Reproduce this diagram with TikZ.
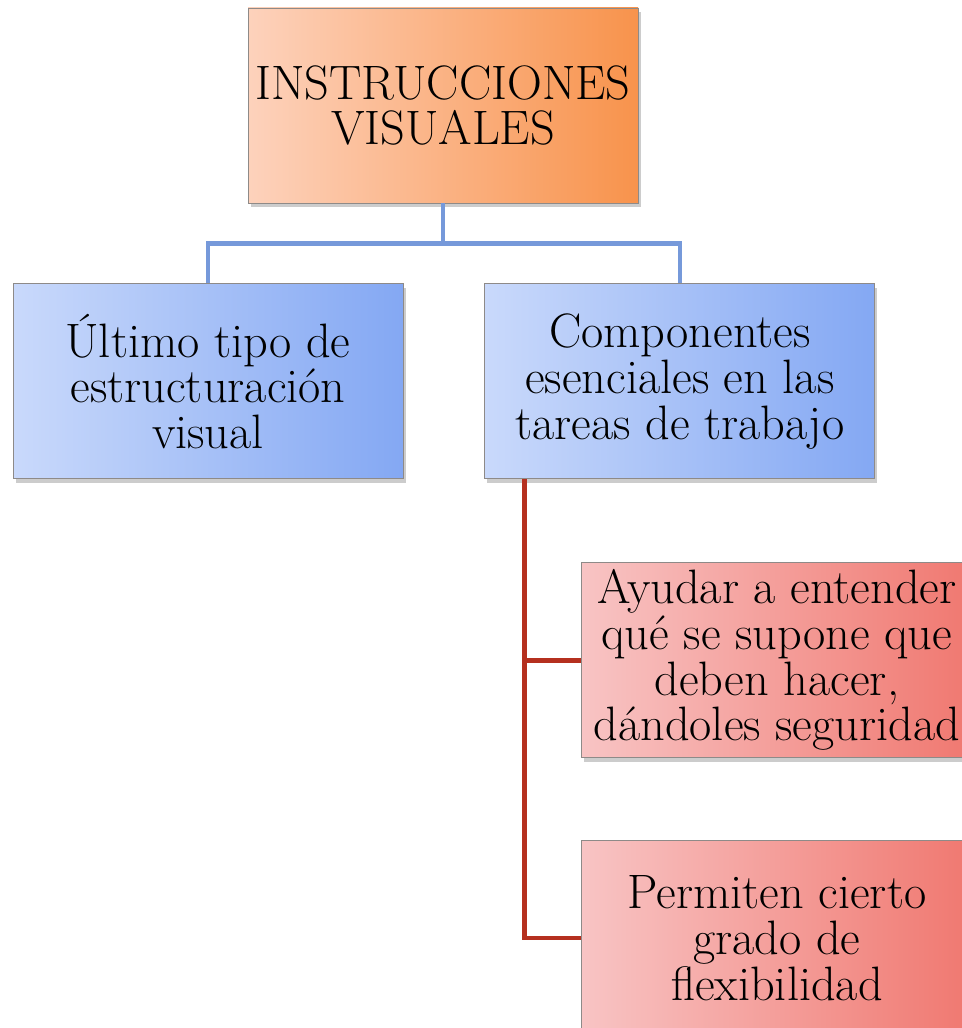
\documentclass[tikz,border=0pt]{standalone}
\usepackage{xcolor}
\usepackage{tikz}
\usetikzlibrary{positioning,shadows,calc}
\definecolor{OrangeLight}{HTML}{FDD2BC}
\definecolor{OrangeMid}{HTML}{FBB58E}
\definecolor{OrangeDark}{HTML}{F8934C}
\definecolor{BlueLight}{HTML}{C9D9FB}
\definecolor{BlueMid}{HTML}{B0C8F8}
\definecolor{BlueDark}{HTML}{84A8F3}
\definecolor{RedLight}{HTML}{F8C4C4}
\definecolor{RedMid}{HTML}{F5A9A4}
\definecolor{RedDark}{HTML}{F07870}
\definecolor{BlueLink}{HTML}{7699DA}
\definecolor{RedLink}{HTML}{B5301F}
\definecolor{BoxRule}{HTML}{8E8A88}
\newcommand{\boxFont}{\fontsize{27.5}{26}\selectfont\lineskiplimit=-20pt\relax}

\begin{document}
\begin{tikzpicture}[
  box/.style={draw=BoxRule,line width=0.5pt,minimum width=7.8cm,minimum height=3.9cm,align=center,
    font=\boxFont,inner sep=0pt,
    drop shadow={shadow xshift=0.05cm,shadow yshift=-0.09cm,opacity=0.4}},
  topbox/.style={box,left color=OrangeLight,middle color=OrangeMid,right color=OrangeDark},
  midbox/.style={box,left color=BlueLight,middle color=BlueMid,right color=BlueDark},
  leafbox/.style={box,left color=RedLight,middle color=RedMid,right color=RedDark},
  bluelink/.style={draw=BlueLink,line width=2.6pt},
  redlink/.style={draw=RedLink,line width=2.6pt}
]
\useasboundingbox (0,0) rectangle (19.22,-20.56);
\node[topbox] (title) at (8.86,-2.11) {INSTRUCCIONES\\VISUALES};
\node[midbox,below=1.6cm of title,xshift=-4.7cm] (lastkind) {Último tipo de\\estructuración\\visual};
\node[midbox,right=1.62cm of lastkind] (parts) {Componentes\\esenciales en las\\tareas de trabajo};
\node[leafbox,below=1.66cm of parts,xshift=1.94cm] (helpnode) {Ayudar a entender\\qué se supone que\\deben hacer,\\dándoles seguridad};
\node[leafbox,below=1.64cm of helpnode] (flexnode) {Permiten cierto\\grado de\\flexibilidad};
% blue tree
\draw[bluelink] (title.south) -- ++(0,-0.8) coordinate (split) -| (lastkind.north);
\draw[bluelink] (split) -| (parts.north);
% red list
\coordinate (trunk) at ([xshift=0.8cm]parts.south west);
\draw[redlink] (trunk) |- (helpnode.west);
\draw[redlink] (trunk) |- (flexnode.west);
\end{tikzpicture}
\end{document}
